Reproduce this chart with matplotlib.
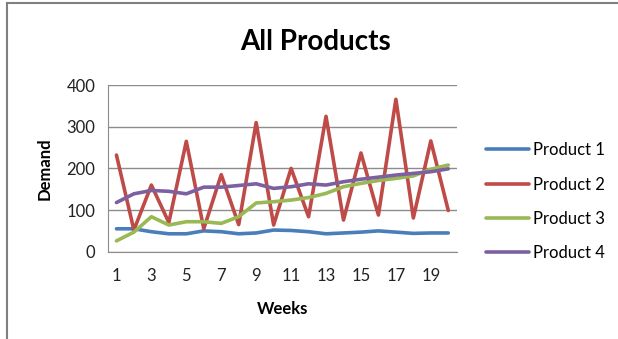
import numpy as np
import matplotlib
matplotlib.use("Agg")
import matplotlib.pyplot as plt
from matplotlib.lines import Line2D

weeks = list(range(1, 21))
product_1 = [55, 55, 48, 43, 43, 50, 48, 43, 45, 52, 51, 48, 43, 45, 47, 50, 47, 44, 45, 45]
product_2 = [232, 52, 160, 70, 265, 55, 185, 65, 310, 64, 200, 84, 325, 76, 237, 88, 366, 81, 266, 99]
product_3 = [26, 47, 84, 64, 72, 72, 68, 84, 117, 120, 124, 130, 140, 156, 164, 171, 176, 182, 198, 208]
product_4 = [118, 139, 147, 145, 139, 155, 155, 159, 163, 152, 156, 163, 160, 168, 174, 179, 184, 188, 192, 199]

series = [
    ("Product 1", product_1, "#4a7ebb"),
    ("Product 2", product_2, "#be4b48"),
    ("Product 3", product_3, "#98b954"),
    ("Product 4", product_4, "#7d60a0"),
]

plt.rcParams["font.family"] = ["Lato", "DejaVu Sans"]

fig = plt.figure(figsize=(6.18, 3.39), dpi=100)
ax = fig.add_axes([0.1743, 0.2575, 0.5652, 0.4915])

for label, vals, color in series:
    ax.plot(weeks, vals, color=color, linewidth=2.6, label=label,
            solid_capstyle="round", solid_joinstyle="round")

ax.set_xlim(0.5, 20.5)
ax.set_ylim(0, 400)
ax.set_yticks([0, 100, 200, 300, 400])
ax.set_xticks(weeks[::2])
ax.grid(axis="y", color="#8c8c8c", linewidth=1)
ax.set_axisbelow(True)
for side in ["top", "right"]:
    ax.spines[side].set_visible(False)
for side in ["left", "bottom"]:
    ax.spines[side].set_color("#8c8c8c")
ax.tick_params(length=0, labelsize=12, pad=9, colors="#222222")
ax.tick_params(axis="x", pad=12)

ax.set_xlabel("Weeks", fontsize=12, fontweight="bold", labelpad=12)
ax.set_ylabel("Demand", fontsize=12, fontweight="bold", labelpad=10)
fig.text(0.51, 0.875, "All Products", ha="center", va="center",
         fontsize=20, fontweight="bold")

ax.legend(loc="center left", bbox_to_anchor=(1.04, 0.30), frameon=False,
          fontsize=12, handlelength=2.6, handletextpad=0.2, labelspacing=1.1)

# chart border (left and top visible)
fig.add_artist(Line2D([0.011, 0.011], [0, 0.99], color="#808080", linewidth=1.5,
                      transform=fig.transFigure))
fig.add_artist(Line2D([0.011, 1.0], [0.99, 0.99], color="#808080", linewidth=1.5,
                      transform=fig.transFigure))

fig.savefig("out.png", dpi=100)
